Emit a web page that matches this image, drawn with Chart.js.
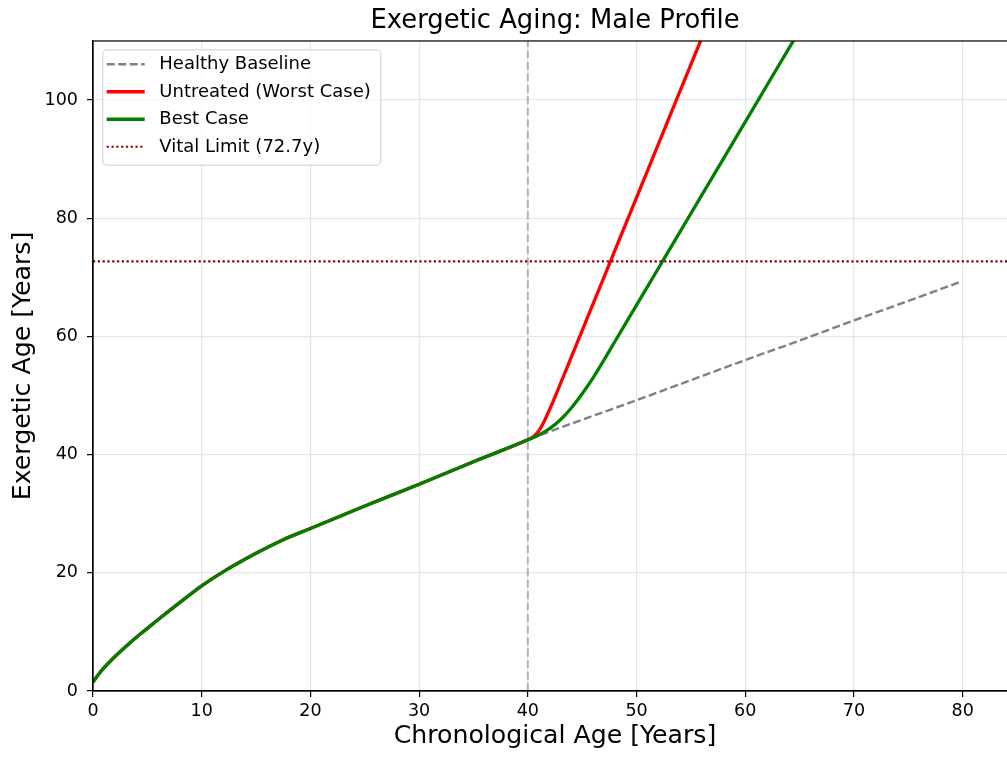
<!DOCTYPE html>
<html>
<head>
<meta charset="utf-8">
<title>Exergetic Aging: Male Profile</title>
<script src="https://cdn.jsdelivr.net/npm/chart.js@4.4.1/dist/chart.umd.min.js"></script>
<style>
    html, body { margin: 0; padding: 0; background: #fff; overflow: hidden; }
    canvas { display: block; }
</style>
</head>
<body>
<canvas id="grafico_aging" width="1110" height="757"></canvas>
<script>
// chronological age [years] -> exergetic age [years]
const healthyAge = [0, 0.5, 1, 2, 3, 4, 5, 6, 8, 10, 12, 15, 17.5, 20, 25, 30, 35, 40, 45, 50, 55, 60, 65, 70, 75, 79.9]
const healthyExergetic = [1.5, 2.8, 3.9, 5.8, 7.5, 9.1, 10.6, 12.1, 15.0, 17.8, 20.2, 23.3, 25.6, 27.5, 31.3, 35.0, 38.8, 42.5, 45.9, 49.2, 52.6, 56.0, 59.3, 62.7, 66.0, 69.3]

// after the intervention age the two scenarios split off the baseline
const untreatedAge = [40.5, 41, 41.5, 42, 43, 44, 45, 46, 47, 48, 50, 52, 54, 56]
const untreatedExergetic = [43.0, 44.0, 45.6, 47.6, 52.0, 56.5, 61.0, 65.5, 70.0, 74.5, 83.5, 92.5, 101.5, 110.5]

const bestAge = [41, 42, 43, 44, 45, 46, 47, 48, 49, 50, 52, 54, 56, 58, 60, 62, 64, 65]
const bestExergetic = [43.3, 44.4, 45.9, 47.9, 50.3, 53.0, 56.0, 59.1, 62.2, 65.3, 71.5, 77.7, 83.9, 90.1, 96.3, 102.5, 108.7, 111.8]

const vitalLimit = 72.7
const interventionAge = 40
const xRange = [0, 85]
const yRange = [0, 110]

Chart.defaults.font.family = "'DejaVu Sans', sans-serif"
Chart.defaults.color = '#000'

function toPoints(ages, values) {
    return ages.map((age, i) => ({ x: age, y: values[i] }))
}

const healthyPoints = toPoints(healthyAge, healthyExergetic)
const sharedPoints = healthyPoints.filter(p => p.x <= interventionAge)
const untreatedPoints = sharedPoints.concat(toPoints(untreatedAge, untreatedExergetic))
const bestPoints = sharedPoints.concat(toPoints(bestAge, bestExergetic))

// axes frame on top of the lines
const frame = {
    id: 'frame',
    afterDatasetsDraw(chart) {
        const { ctx, chartArea } = chart
        ctx.save()
        ctx.strokeStyle = '#000'
        ctx.lineWidth = 1.2
        ctx.strokeRect(chartArea.left, chartArea.top, chartArea.right - chartArea.left, chartArea.bottom - chartArea.top)
        ctx.restore()
    }
}

// legend box inside the upper left corner of the plot
const legendBox = {
    id: 'legendBox',
    afterDraw(chart) {
        const { ctx, chartArea } = chart
        const items = chart.data.datasets.filter(d => d.label)
        ctx.save()
        ctx.font = "18px 'DejaVu Sans'"
        let textWidth = 0
        items.forEach(d => { textWidth = Math.max(textWidth, ctx.measureText(d.label).width) })

        const left = chartArea.left + 9.7
        const top = chartArea.top + 9
        const rowHeight = 27.5
        const textX = left + 56.6
        const width = textX - left + textWidth + 10
        const height = 14.3 + rowHeight * (items.length - 1) + 18.3

        ctx.beginPath()
        ctx.roundRect(left, top, width, height, 4)
        ctx.fillStyle = 'rgba(255,255,255,0.8)'
        ctx.fill()
        ctx.strokeStyle = '#d6d6d6'
        ctx.lineWidth = 1.2
        ctx.stroke()

        items.forEach((d, i) => {
            const y = top + 14.3 + i * rowHeight
            ctx.beginPath()
            ctx.setLineDash(d.borderDash || [])
            ctx.strokeStyle = d.borderColor
            ctx.lineWidth = d.borderWidth
            ctx.moveTo(left + 4, y)
            ctx.lineTo(left + 42, y)
            ctx.stroke()
            ctx.setLineDash([])
            ctx.fillStyle = '#000'
            ctx.textBaseline = 'middle'
            ctx.fillText(d.label, textX, y + 0.5)
        })
        ctx.restore()
    }
}

const grafico = new Chart(document.getElementById('grafico_aging'), {
    type: 'line',
    data: {
        datasets: [
            {
                label: 'Healthy Baseline',
                data: healthyPoints,
                borderColor: '#808080',
                borderWidth: 2.4,
                borderDash: [8, 3.5],
                order: 3
            },
            {
                label: 'Untreated (Worst Case)',
                data: untreatedPoints,
                borderColor: '#ff0000',
                borderWidth: 3.3,
                order: 2
            },
            {
                label: 'Best Case',
                data: bestPoints,
                borderColor: '#008000',
                borderWidth: 3.3,
                order: 1
            },
            {
                label: `Vital Limit (${vitalLimit}y)`,
                data: [{ x: xRange[0], y: vitalLimit }, { x: xRange[1], y: vitalLimit }],
                borderColor: '#8b0000',
                borderWidth: 2.2,
                borderDash: [2.2, 2.6],
                order: 0
            },
            {
                label: '',
                data: [{ x: interventionAge, y: yRange[0] }, { x: interventionAge, y: yRange[1] }],
                borderColor: 'rgba(128,128,128,0.5)',
                borderWidth: 2.2,
                borderDash: [8, 3.5],
                order: 4
            }
        ]
    },
    options: {
        responsive: false,
        animation: false,
        devicePixelRatio: 1,
        layout: { padding: { left: 0, right: 93, top: 0, bottom: 0 } },
        elements: {
            point: { radius: 0, hoverRadius: 0 },
            line: { fill: false, cubicInterpolationMode: 'monotone' }
        },
        plugins: {
            legend: { display: false },
            tooltip: { enabled: false },
            title: {
                display: true,
                fullSize: false,
                text: 'Exergetic Aging: Male Profile',
                color: '#000',
                font: { size: 25.8, weight: 'normal' },
                padding: { top: 5.6, bottom: 4.4 }
            }
        },
        scales: {
            x: {
                type: 'linear',
                min: xRange[0],
                max: xRange[1],
                afterFit(scale) { scale.height = 66 },
                border: { display: true, color: '#000', width: 1.2 },
                grid: { color: '#e6e6e6', lineWidth: 1.2, tickColor: '#000', tickLength: 6, tickWidth: 1.2 },
                ticks: { stepSize: 10, includeBounds: false, padding: 4, font: { size: 17.5 }, maxRotation: 0 },
                title: {
                    display: true,
                    text: 'Chronological Age [Years]',
                    font: { size: 25.2 },
                    padding: { top: 4, bottom: 5.6 }
                }
            },
            y: {
                min: yRange[0],
                max: yRange[1],
                afterFit(scale) { scale.width = 93 },
                border: { display: true, color: '#000', width: 1.2 },
                grid: { color: '#e6e6e6', lineWidth: 1.2, tickColor: '#000', tickLength: 6, tickWidth: 1.2 },
                ticks: { stepSize: 20, includeBounds: false, padding: 9, font: { size: 17.5 } },
                title: {
                    display: true,
                    text: 'Exergetic Age [Years]',
                    font: { size: 25.2 },
                    padding: { top: 8.5, bottom: 4 }
                }
            }
        }
    },
    plugins: [frame, legendBox]
})
</script>
</body>
</html>
